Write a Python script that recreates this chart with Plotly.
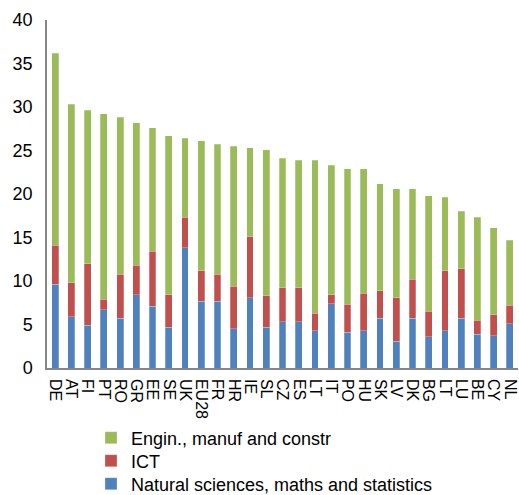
import plotly.graph_objects as go

countries = ["DE", "AT", "FI", "PT", "RO", "GR", "EE", "SE", "UK", "EU28", "FR", "HR", "IE", "SL",
             "CZ", "ES", "LT", "IT", "PO", "HU", "SK", "LV", "DK", "BG", "LT", "LU", "BE", "CY", "NL"]

natural = [9.6, 5.9, 4.9, 6.7, 5.7, 8.4, 7.1, 4.7, 13.8, 7.7, 7.7, 4.5, 8.1, 4.7,
           5.3, 5.3, 4.3, 7.4, 4.1, 4.3, 5.7, 3.1, 5.7, 3.6, 4.3, 5.7, 3.9, 3.7, 5.1]
ict = [4.5, 3.9, 7.1, 1.2, 5.1, 3.4, 6.3, 3.7, 3.5, 3.5, 3.1, 4.9, 7.0, 3.6,
       3.9, 3.9, 2.0, 1.0, 3.2, 4.3, 3.2, 5.0, 4.5, 2.9, 6.9, 5.7, 1.6, 2.4, 2.1]
engin = [22.1, 20.5, 17.6, 21.3, 18.0, 16.4, 14.2, 18.3, 9.1, 14.9, 14.9, 16.1, 10.2, 16.8,
         14.9, 14.7, 17.6, 14.9, 15.6, 14.3, 12.3, 12.5, 10.4, 13.3, 8.4, 6.6, 11.8, 10.0, 7.5]

y_ticks = [0, 5, 10, 15, 20, 25, 30, 35, 40]

x_idx = list(range(len(countries)))
edge = dict(color="rgba(255,255,255,0.5)", width=0.5)

fig = go.Figure()
fig.add_bar(x=x_idx, y=natural, name="Natural sciences, maths and statistics",
            marker=dict(color="#4F81BD", line=edge), legend="legend3")
fig.add_bar(x=x_idx, y=ict, name="ICT",
            marker=dict(color="#C0504D", line=edge), legend="legend2")
fig.add_bar(x=x_idx, y=engin, name="Engin., manuf and constr",
            marker=dict(color="#9BBB59", line=edge), legend="legend")

leg_common = dict(orientation="v", xanchor="left", yanchor="middle", x=0.0934,
                  font=dict(size=18), itemwidth=30, bgcolor="rgba(0,0,0,0)")

fig.update_layout(
    width=519, height=495,
    margin=dict(l=47, r=1, t=20, b=127, autoexpand=False),
    barmode="stack",
    bargap=0.58,
    plot_bgcolor="white",
    paper_bgcolor="white",
    font=dict(family="Liberation Sans, Arial, sans-serif", color="black"),
    showlegend=True,
    legend=dict(leg_common, y=-0.2011),
    legend2=dict(leg_common, y=-0.2672),
    legend3=dict(leg_common, y=-0.3333),
)
fig.update_xaxes(
    tickmode="array", tickvals=x_idx, ticktext=countries,
    tickangle=90, tickfont=dict(size=16), range=[-0.5, len(countries) - 0.5],
    showline=True, linecolor="#868686", linewidth=1.5, showgrid=False, ticks="", zeroline=False,
    automargin=False, ticklabelstandoff=6,
)
fig.update_yaxes(
    range=[0, 40], tickvals=y_ticks, tickfont=dict(size=18),
    showline=True, linecolor="#868686", linewidth=1.5, showgrid=False, ticks="", zeroline=False,
    automargin=False, ticklabelstandoff=9,
)

fig.write_html("out.html", config={"displayModeBar": False},
               post_script="document.body.style.margin='0';document.body.style.overflow='hidden';")
